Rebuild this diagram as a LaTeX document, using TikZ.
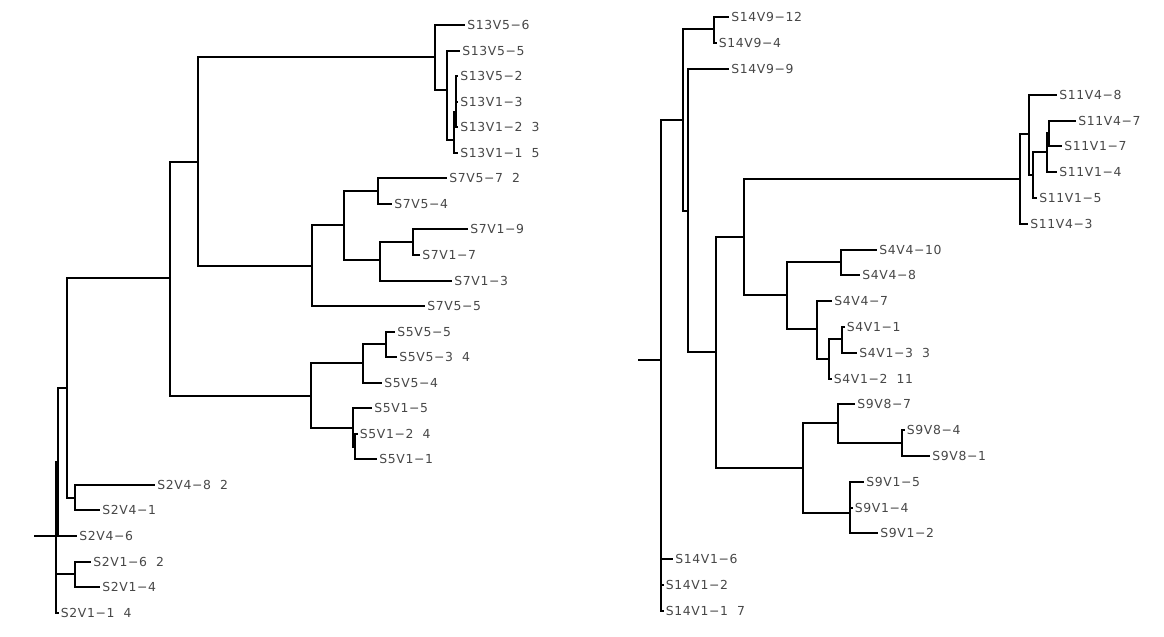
\documentclass[tikz,border=0pt]{standalone}
\usepackage{fontspec}
\newfontfamily\labfont[LetterSpace=5,WordSpace=2.0]{DejaVu Sans}
\begin{document}
\begin{tikzpicture}[x=0.75pt,y=-0.75pt,
  br/.style={line width=1.5pt,black},
  lab/.style={anchor=west,inner xsep=1.6pt,inner ysep=0pt,text=black!72,
    font=\labfont\fontsize{9.3pt}{11pt}\selectfont}]
\fill[white] (0,0) rectangle (1164,636);
\useasboundingbox (0,0) rectangle (1164,636);
% ---------------- left tree: internal nodes ----------------
\coordinate (Ls) at (34,536);
\coordinate (L0) at (56,536);
\coordinate (L1) at (58,462);
\coordinate (L2) at (67,388);
\coordinate (L3) at (170,278);
\coordinate (L4) at (198,162);
\coordinate (L5) at (435,57);
\coordinate (L6) at (447,90);
\coordinate (L7) at (454,140);
\coordinate (L8) at (456,112);
\coordinate (L9) at (312,266);
\coordinate (L10) at (344,225);
\coordinate (L11) at (378,191);
\coordinate (L12) at (380,260);
\coordinate (L13) at (413,242);
\coordinate (L14) at (311,396);
\coordinate (L15) at (363,363);
\coordinate (L16) at (386,344);
\coordinate (L17) at (353,428);
\coordinate (L18) at (355,447);
\coordinate (L19) at (75,498);
\coordinate (L20) at (75,574);
% ---------------- left tree: leaves ----------------
\node[lab] (l01) at (465,25) {S13V5−6};
\node[lab] (l02) at (460,51) {S13V5−5};
\node[lab] (l03) at (458,76) {S13V5−2};
\node[lab] (l04) at (458,102) {S13V1−3};
\node[lab] (l05) at (458,127) {S13V1−2 3};
\node[lab] (l06) at (458,153) {S13V1−1 5};
\node[lab] (l07) at (447,178) {S7V5−7 2};
\node[lab] (l08) at (392,204) {S7V5−4};
\node[lab] (l09) at (468,229) {S7V1−9};
\node[lab] (l10) at (420,255) {S7V1−7};
\node[lab] (l11) at (452,281) {S7V1−3};
\node[lab] (l12) at (425,306) {S7V5−5};
\node[lab] (l13) at (395,332) {S5V5−5};
\node[lab] (l14) at (397,357) {S5V5−3 4};
\node[lab] (l15) at (382,383) {S5V5−4};
\node[lab] (l16) at (372,408) {S5V1−5};
\node[lab] (l17) at (357.5,434) {S5V1−2 4};
\node[lab] (l18) at (377,459) {S5V1−1};
\node[lab] (l19) at (155,485) {S2V4−8 2};
\node[lab] (l20) at (100,510) {S2V4−1};
\node[lab] (l21) at (77,536) {S2V4−6};
\node[lab] (l22) at (91,562) {S2V1−6 2};
\node[lab] (l23) at (100,587) {S2V1−4};
\node[lab] (l24) at (58.5,613) {S2V1−1 4};
% ---------------- left tree: branches ----------------
\draw[br] (Ls) -- (L0);
\foreach \p/\c in {L0/L1,L0/L20,L0/l24.west,L1/L2,L1/l21.west,L2/L3,L2/L19,
  L3/L4,L3/L14,L4/L5,L4/L9,L5/l01.west,L5/L6,L6/l02.west,L6/L7,L7/L8,L7/l06.west,
  L8/l03.west,L8/l04.west,L8/l05.west,L9/L10,L9/l12.west,L10/L11,L10/L12,
  L11/l07.west,L11/l08.west,L12/L13,L12/l11.west,L13/l09.west,L13/l10.west,
  L14/L15,L14/L17,L15/L16,L15/l15.west,L16/l13.west,L16/l14.west,
  L17/l16.west,L17/L18,L18/l17.west,L18/l18.west,L19/l19.west,L19/l20.west,
  L20/l22.west,L20/l23.west}
  \draw[br] (\p) |- (\c);
% ---------------- right tree: internal nodes ----------------
\coordinate (Rs) at (638,360);
\coordinate (R0) at (661,360);
\coordinate (R1) at (683,120);
\coordinate (R2) at (714,29);
\coordinate (R3) at (688,211);
\coordinate (R4) at (716,352);
\coordinate (R5) at (744,237);
\coordinate (R6) at (1020,179);
\coordinate (R7) at (1029,134);
\coordinate (R8) at (1033,175);
\coordinate (R9) at (1047,152);
\coordinate (R10) at (1049,133);
\coordinate (R11) at (787,295);
\coordinate (R12) at (841,262);
\coordinate (R13) at (817,329);
\coordinate (R14) at (829,359);
\coordinate (R15) at (842,339);
\coordinate (R16) at (803,468);
\coordinate (R17) at (838,423);
\coordinate (R18) at (902,443);
\coordinate (R19) at (850,513);
% ---------------- right tree: leaves ----------------
\node[lab] (r01) at (729,17) {S14V9−12};
\node[lab] (r02) at (716.5,43) {S14V9−4};
\node[lab] (r03) at (729,69) {S14V9−9};
\node[lab] (r04) at (1057,95) {S11V4−8};
\node[lab] (r05) at (1076,121) {S11V4−7};
\node[lab] (r06) at (1062,146) {S11V1−7};
\node[lab] (r07) at (1057,172) {S11V1−4};
\node[lab] (r08) at (1037,198) {S11V1−5};
\node[lab] (r09) at (1028,224) {S11V4−3};
\node[lab] (r10) at (877,250) {S4V4−10};
\node[lab] (r11) at (860,275) {S4V4−8};
\node[lab] (r12) at (832,301) {S4V4−7};
\node[lab] (r13) at (844.5,327) {S4V1−1};
\node[lab] (r14) at (857,353) {S4V1−3 3};
\node[lab] (r15) at (831.5,379) {S4V1−2 11};
\node[lab] (r16) at (855,404) {S9V8−7};
\node[lab] (r17) at (904.5,430) {S9V8−4};
\node[lab] (r18) at (930,456) {S9V8−1};
\node[lab] (r19) at (864,482) {S9V1−5};
\node[lab] (r20) at (852.5,508) {S9V1−4};
\node[lab] (r21) at (878,533) {S9V1−2};
\node[lab] (r22) at (673,559) {S14V1−6};
\node[lab] (r23) at (663.5,585) {S14V1−2};
\node[lab] (r24) at (663.5,611) {S14V1−1 7};
% ---------------- right tree: branches ----------------
\draw[br] (Rs) -- (R0);
\foreach \p/\c in {R0/R1,R0/r22.west,R0/r23.west,R0/r24.west,R1/R2,R1/R3,
  R2/r01.west,R2/r02.west,R3/r03.west,R3/R4,R4/R5,R4/R16,R5/R6,R5/R11,
  R6/R7,R6/r09.west,R7/r04.west,R7/R8,R8/R9,R8/r08.west,R9/R10,R9/r07.west,
  R10/r05.west,R10/r06.west,R11/R12,R11/R13,R12/r10.west,R12/r11.west,
  R13/r12.west,R13/R14,R14/R15,R14/r15.west,R15/r13.west,R15/r14.west,
  R16/R17,R16/R19,R17/r16.west,R17/R18,R18/r17.west,R18/r18.west,
  R19/r19.west,R19/r20.west,R19/r21.west}
  \draw[br] (\p) |- (\c);
\end{tikzpicture}
\end{document}
